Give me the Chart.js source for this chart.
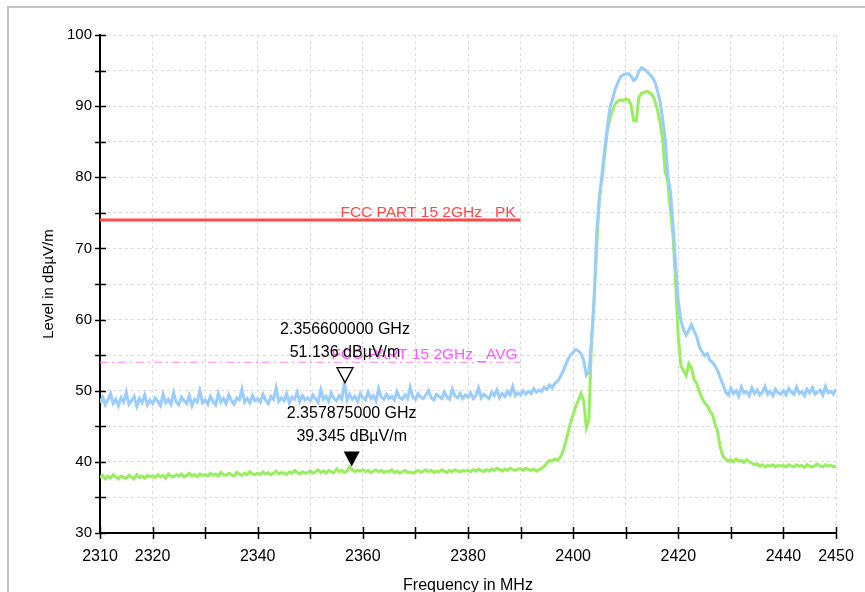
<!DOCTYPE html>
<html>
<head>
<meta charset="utf-8">
<script src="https://cdn.jsdelivr.net/npm/chart.js@4/dist/chart.umd.min.js"></script>
<style>
  html, body { margin: 0; padding: 0; background: #fff; }
  #wrap { width: 865px; height: 592px; }
</style>
</head>
<body>
<div id="wrap"><canvas id="emiChart" width="865" height="592"></canvas></div>
<script>
// ===== Sweep data (0.5 MHz steps from 2310 MHz) =====
const freqStart = 2310;
const freqStep = 0.5;

const peakLevels = [
  48.3, 49.1, 48.0, 48.7, 49.6, 48.2, 48.8, 47.9, 49.0, 48.4, 49.8, 48.1, 48.6, 49.2, 47.8, 48.9, 48.3, 49.4, 48.0, 48.7,
  48.2, 49.0, 48.5, 47.9, 49.5, 48.3, 48.8, 48.1, 49.7, 48.4, 48.0, 49.1, 48.6, 48.2, 49.3, 47.9, 48.8, 48.4, 50.0, 48.3,
  48.7, 48.1, 49.2, 48.5, 48.0, 49.6, 48.4, 48.9, 48.2, 49.4, 48.6, 48.1, 49.0, 48.7, 50.2, 48.4, 48.9, 48.3, 49.3, 48.6,
  48.9, 48.4, 49.5, 48.7, 48.2, 49.2, 48.8, 50.4, 48.5, 49.0, 48.6, 49.6, 48.3, 49.1, 48.8, 49.8, 48.5, 49.3, 48.7, 49.0,
  48.6, 49.4, 48.9, 48.4, 50.1, 48.8, 49.2, 48.5, 49.7, 48.9, 48.6, 49.3, 48.8, 51.1, 48.7, 49.5, 48.8, 49.2, 48.5, 49.6,
  49.0, 48.7, 49.8, 48.9, 49.3, 48.6, 50.3, 49.1, 48.8, 49.5, 48.9, 49.2, 48.7, 49.9, 49.0, 48.8, 49.4, 48.9, 50.5, 49.1,
  48.8, 49.6, 49.1, 48.9, 49.4, 50.0, 49.0, 48.7, 49.5, 49.2, 48.9, 49.8, 49.1, 48.8, 50.2, 49.3, 49.0, 49.6, 48.9, 49.4,
  49.1, 49.7, 48.9, 49.3, 50.4, 49.0, 49.5, 49.2, 48.9, 49.8, 49.3, 50.1, 49.0, 49.6, 49.2, 49.9, 49.4, 50.6, 49.3, 49.7,
  49.4, 50.0, 49.5, 49.9, 49.6, 50.3, 49.8, 50.1, 49.9, 50.5, 50.2, 50.8, 50.4, 51.0, 51.3, 51.9, 52.6, 53.5, 54.4, 55.0,
  55.4, 55.8, 55.6, 55.2, 54.3, 52.2, 52.6, 57.0, 63.0, 72.5, 77.0, 80.5, 84.0, 87.0, 89.8, 91.0, 92.4, 93.3, 94.1, 94.4,
  94.5, 94.6, 94.2, 93.6, 93.9, 94.9, 95.4, 95.2, 94.9, 94.5, 94.1, 93.5, 92.3, 90.8, 88.3, 85.5, 80.3, 78.0, 73.5, 67.6,
  62.5, 59.8, 58.6, 57.8, 58.5, 59.3, 58.4, 57.6, 56.2, 55.5, 54.9, 55.2, 54.3, 54.0, 53.5, 52.8, 51.8, 50.9, 49.8, 49.4,
  50.3, 49.6, 50.0, 49.2, 50.5, 49.7, 49.9, 49.3, 50.4, 49.6, 50.1, 49.4, 49.8, 50.6, 49.5, 49.9, 49.3, 50.2, 49.7, 49.5,
  50.0, 49.4, 50.3, 49.8, 49.5, 50.5, 49.6, 49.9, 49.3, 50.2, 49.7, 50.4, 49.5, 49.8, 50.1, 49.4, 50.6, 49.7, 49.9, 49.5,
  50.2
];

const avgLevels = [
  37.8, 38.1, 37.6, 38.0, 37.7, 38.2, 37.9, 37.6, 38.0, 37.8, 37.7, 38.1, 37.9, 37.6, 38.2, 37.8, 38.0, 37.7, 38.1, 37.9,
  38.0, 37.8, 38.2, 37.9, 38.1, 37.7, 38.3, 38.0, 37.9, 38.2, 38.0, 38.3, 37.9, 38.1, 38.4, 38.0, 38.2, 37.9, 38.3, 38.1,
  38.2, 38.0, 38.4, 38.1, 38.3, 38.0, 38.5, 38.2, 38.1, 38.4, 38.2, 38.0, 38.5, 38.3, 38.1, 38.4, 38.2, 38.6, 38.3, 38.2,
  38.4, 38.2, 38.6, 38.3, 38.5, 38.2, 38.4, 38.7, 38.3, 38.5, 38.4, 38.2, 38.6, 38.4, 38.8, 38.5, 38.3, 38.6, 38.4, 38.5,
  38.7, 38.4, 38.6, 38.9, 38.5, 38.7, 38.4, 38.8, 38.6, 38.5, 39.0, 38.6, 38.8, 38.5, 38.7, 39.3, 38.9, 38.6, 38.8, 38.7,
  38.9, 38.6, 38.8, 38.5, 38.7, 38.9, 38.6, 38.8, 38.5, 38.7, 38.6, 38.9, 38.5, 38.7, 38.4, 38.6, 38.8, 38.5, 38.6, 38.4,
  38.6, 38.8, 38.5, 38.7, 38.9, 38.6, 38.8, 38.5, 38.7, 38.6, 38.9, 38.7, 38.5, 38.8, 38.6, 38.9, 38.7, 38.6, 38.8, 38.7,
  38.8, 38.6, 38.9, 38.7, 39.0, 38.8, 38.6, 38.9, 38.7, 39.0, 38.8, 39.1, 38.9, 38.7, 39.0, 38.8, 39.1, 38.9, 38.8, 39.0,
  39.0, 38.8, 39.1, 38.9, 38.8, 39.0, 38.7, 38.9, 39.1, 39.4, 39.8, 40.2, 40.1, 40.4, 40.2, 40.6, 41.3, 42.6, 44.0, 45.5,
  46.6, 47.8, 48.7, 49.6, 48.6, 44.8, 46.0, 57.0, 63.0, 70.5, 77.5, 79.8, 83.2, 86.5, 88.3, 89.4, 90.3, 90.7, 90.9, 90.8,
  91.0, 90.9, 90.2, 88.0, 87.9, 91.2, 91.8, 91.9, 92.1, 91.9, 91.6, 90.9, 89.6, 87.9, 85.5, 80.8, 79.4, 75.5, 71.8, 65.0,
  57.5, 53.5, 52.8, 52.1, 53.8, 53.2, 51.6, 51.0, 49.9, 49.0, 48.3, 47.9, 47.2, 46.6, 45.3, 44.2, 42.0, 40.8, 40.4, 40.1,
  40.3, 40.0, 40.4, 40.1, 40.2, 39.9, 40.3, 40.0, 39.8, 39.6, 39.7, 39.4, 39.6, 39.3, 39.5, 39.4, 39.6, 39.3, 39.5, 39.4,
  39.5, 39.3, 39.6, 39.4, 39.3, 39.6, 39.4, 39.5, 39.2, 39.6, 39.4, 39.3, 39.5, 39.7, 39.4, 39.3, 39.6, 39.4, 39.5, 39.3,
  39.4
];

// ===== Limit lines =====
const limitFreqs = [2310, 2390];
const pkLimit = [74, 74];
const avgLimit = [54, 54];
const pkLimitName = "FCC PART 15 2GHz _PK";
const avgLimitName = "FCC PART 15 2GHz _AVG";

// ===== Markers =====
const markerFreqs = [2356.6, 2357.875];
const markerLevels = [51.136, 39.345];
const markerFreqText = ["2.356600000 GHz", "2.357875000 GHz"];
const markerLevelText = ["51.136 dBµV/m", "39.345 dBµV/m"];
const markerFilled = [false, true];

// ===== Axis ticks =====
const xTickLabels = [2310, 2320, 2340, 2360, 2380, 2400, 2420, 2440, 2450];
const yTickLabels = [30, 40, 50, 60, 70, 80, 90, 100];

function toPoints(levels) {
    return levels.map((v, i) => ({ x: freqStart + i * freqStep, y: v }));
}
function limitPoints(levels) {
    return levels.map((v, i) => ({ x: limitFreqs[i], y: v }));
}

const FONT = 'Arial, "Liberation Sans", sans-serif';
Chart.defaults.font.family = FONT;
Chart.defaults.color = "#000";

// frame, crossing tick marks, markers and limit labels
const decorPlugin = {
    id: "decor",
    beforeDraw(chart) {
        const ctx = chart.ctx;
        ctx.save();
        ctx.strokeStyle = "#c4c4c4";
        ctx.lineWidth = 2;
        ctx.beginPath();
        ctx.moveTo(8, 600);
        ctx.lineTo(8, 7);
        ctx.lineTo(870, 7);
        ctx.stroke();
        ctx.restore();
    },
    afterDatasetsDraw(chart) {
        const { ctx, chartArea, scales: { x, y } } = chart;
        ctx.save();

        // limit labels
        ctx.font = "15.5px " + FONT;
        ctx.textAlign = "right";
        ctx.textBaseline = "alphabetic";
        ctx.fillStyle = "#ff4a4a";
        ctx.fillText(pkLimitName, x.getPixelForValue(limitFreqs[1]) - 5, y.getPixelForValue(pkLimit[1]) - 3);
        ctx.fillStyle = "#ff5cff";
        ctx.fillText(avgLimitName, x.getPixelForValue(limitFreqs[1]) - 3, y.getPixelForValue(avgLimit[1]) - 3);

        // crossing tick marks
        ctx.strokeStyle = "#000";
        ctx.lineWidth = 1.5;
        ctx.beginPath();
        y.ticks.forEach(t => {
            const py = Math.round(y.getPixelForValue(t.value)) + 0.5;
            ctx.moveTo(chartArea.left - 5, py);
            ctx.lineTo(chartArea.left + 6, py);
        });
        x.ticks.forEach(t => {
            const px = Math.round(x.getPixelForValue(t.value)) + 0.5;
            ctx.moveTo(px, chartArea.bottom - 6);
            ctx.lineTo(px, chartArea.bottom + 6);
        });
        ctx.stroke();

        // markers
        markerFreqs.forEach((f, i) => {
            const px = x.getPixelForValue(f);
            const py = y.getPixelForValue(markerLevels[i]);
            ctx.beginPath();
            ctx.moveTo(px, py);
            ctx.lineTo(px - 8, py - 15);
            ctx.lineTo(px + 8, py - 15);
            ctx.closePath();
            if (markerFilled[i]) {
                ctx.fillStyle = "#000";
                ctx.fill();
            } else {
                ctx.fillStyle = "#fff";
                ctx.fill();
                ctx.lineWidth = 1.3;
                ctx.strokeStyle = "#000";
                ctx.stroke();
            }
            ctx.fillStyle = "#000";
            ctx.font = "16px " + FONT;
            ctx.textAlign = "center";
            ctx.textBaseline = "middle";
            ctx.fillText(markerFreqText[i], px, py - 53);
            ctx.fillText(markerLevelText[i], px, py - 30);
        });
        ctx.restore();
    }
};

const ctx = document.getElementById("emiChart").getContext("2d");
new Chart(ctx, {
    type: "line",
    data: {
        datasets: [
            {
                label: "Peak",
                data: toPoints(peakLevels),
                borderColor: "#99ccff",
                borderWidth: 3,
                pointRadius: 0,
                tension: 0
            },
            {
                label: "Average",
                data: toPoints(avgLevels),
                borderColor: "#99ee60",
                borderWidth: 3,
                pointRadius: 0,
                tension: 0
            },
            {
                label: pkLimitName,
                data: limitPoints(pkLimit),
                borderColor: "#ff4a4a",
                borderWidth: 3,
                pointRadius: 0
            },
            {
                label: avgLimitName,
                data: limitPoints(avgLimit),
                borderColor: "#ff88ff",
                borderWidth: 1,
                borderDash: [8, 4, 2, 4],
                pointRadius: 0
            }
        ]
    },
    options: {
        responsive: false,
        animation: false,
        events: [],
        layout: { padding: { top: 35, right: 29, left: 0, bottom: 0 } },
        plugins: {
            legend: { display: false },
            tooltip: { enabled: false }
        },
        scales: {
            x: {
                type: "linear",
                min: 2310,
                max: 2450,
                afterFit(scale) {
                    scale.height = 59;
                    scale.paddingLeft = 0;
                    scale.paddingRight = 0;
                },
                ticks: {
                    stepSize: 10,
                    autoSkip: false,
                    maxRotation: 0,
                    padding: 14,
                    font: { size: 16 },
                    color: "#000",
                    callback: v => xTickLabels.includes(v) ? String(v) : ""
                },
                grid: { color: "#dcdcdc", lineWidth: 1, drawTicks: false },
                border: { display: true, color: "#000", width: 2, dash: [3, 3] },
                title: {
                    display: true,
                    text: "Frequency in MHz",
                    font: { size: 16 },
                    color: "#000",
                    padding: { top: 0, bottom: -3 }
                }
            },
            y: {
                min: 30,
                max: 100,
                afterFit(scale) { scale.width = 100; },
                ticks: {
                    stepSize: 5,
                    padding: 8,
                    font: { size: 15 },
                    color: "#000",
                    callback: v => yTickLabels.includes(v) ? String(v) : ""
                },
                grid: { color: "#dcdcdc", lineWidth: 1, drawTicks: false },
                border: { display: true, color: "#000", width: 2, dash: [3, 3] },
                title: {
                    display: true,
                    text: "Level in dBµV/m",
                    font: { size: 15 },
                    color: "#000",
                    padding: { top: 40, bottom: 0 }
                }
            }
        }
    },
    plugins: [decorPlugin]
});
</script>
</body>
</html>
